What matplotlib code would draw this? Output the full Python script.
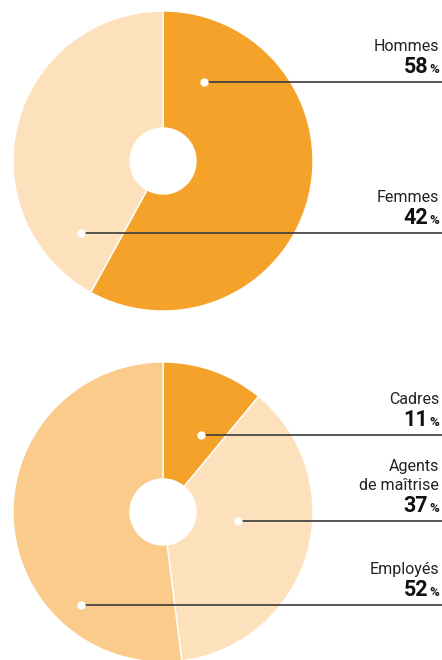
import matplotlib
matplotlib.use("Agg")
import matplotlib.pyplot as plt

# ---- data ----
top_labels = ["Hommes", "Femmes"]
top_values = [58, 42]
top_colors = ["#F4A229", "#FDE1BC"]

bot_labels = ["Cadres", "Agents\nde maîtrise", "Employés"]
bot_values = [11, 37, 52]
bot_colors = ["#F4A229", "#FDE1BC", "#FBCB8C"]

# ---- layout (pixel coordinates, y from top) ----
W, H = 442, 660
top_center = (163, 161)
bot_center = (163, 512)
radius = 150
hole = 33
top_dots = [(204, 82), (81, 233)]
bot_dots = [(201, 435), (238, 521), (81, 605)]

plt.rcParams['font.family'] = ['Roboto', 'DejaVu Sans']

fig = plt.figure(figsize=(W / 100, H / 100), dpi=100)
ax = fig.add_axes([0, 0, 1, 1])


def Y(py):
    return H - py


def draw_pie(values, colors, center):
    ax.pie(values, colors=colors, startangle=90, counterclock=False,
           center=(center[0], Y(center[1])), radius=radius,
           wedgeprops=dict(width=radius - hole, edgecolor="white", linewidth=1))


draw_pie(top_values, top_colors, top_center)
draw_pie(bot_values, bot_colors, bot_center)

ax.set_xlim(0, W)
ax.set_ylim(0, H)
ax.set_aspect("equal")
ax.axis("off")

renderer = fig.canvas.get_renderer()
xr = 439


def annotate(label, value, dot):
    dx, dy = dot
    ax.plot([dx, W], [Y(dy), Y(dy)], color="#3a3a3a", lw=1.2, zorder=3,
            solid_capstyle="butt")
    ax.plot([dx], [Y(dy)], 'o', ms=5, mfc="white", mec="white", zorder=4)
    # percent sign
    pct = ax.text(xr, Y(dy - 9), "%", ha="right", va="baseline",
                  fontsize=9.5, fontweight="bold", color="#1a1a1a")
    bb = pct.get_window_extent(renderer)
    ax.text(bb.x0 - 1, Y(dy - 9), str(value), ha="right", va="baseline",
            fontsize=15.5, fontweight="bold", color="#111111")
    ax.text(xr, Y(dy - 31), label, ha="right", va="baseline",
            fontsize=11.5, color="#222222", linespacing=1.3,
            multialignment="right")


for lab, val, d in zip(top_labels, top_values, top_dots):
    annotate(lab, val, d)
for lab, val, d in zip(bot_labels, bot_values, bot_dots):
    annotate(lab, val, d)

fig.savefig("out.png", dpi=100)
